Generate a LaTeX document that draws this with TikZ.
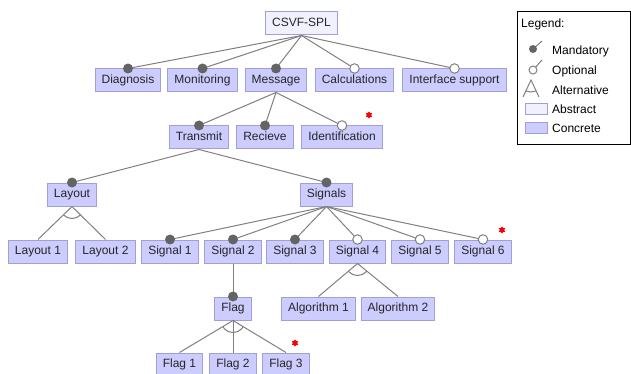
\documentclass[tikz,border=0pt]{standalone}
\usepackage{fontspec}
\setmainfont{Liberation Sans}
\usetikzlibrary{positioning,shapes.geometric}
\definecolor{concfill}{RGB}{204,204,255}
\definecolor{absfill}{RGB}{240,240,255}
\definecolor{boxline}{RGB}{160,160,210}
\definecolor{linegray}{RGB}{128,128,128}
\definecolor{dotgray}{RGB}{100,100,100}
\tikzset{
  feat/.style={draw=boxline, line width=1pt, minimum height=23pt, inner xsep=6.5pt,
    text height=9pt, text depth=2.5pt, text=black!85},
  concrete/.style={feat, fill=concfill},
  abstract/.style={feat, fill=absfill},
  edge/.style={draw=linegray, line width=1pt},
  mand/.style={circle, fill=dotgray, inner sep=0pt, minimum size=10pt},
  opt/.style={circle, draw=linegray, fill=white, line width=1pt, inner sep=0pt, minimum size=9.5pt},
  newfeat/.style={star, star points=6, fill=red, inner sep=0pt, minimum size=7pt}
}

\begin{document}
\begin{tikzpicture}[x=1pt,y=-1pt,font=\fontsize{12pt}{14pt}\selectfont]
  \useasboundingbox (0,0) rectangle (631,374);
  % features
  \node[abstract] (root) at (301.5,23.5) {CSVF-SPL};
  \node[concrete] (diag) at (128,80.5) {Diagnosis};
  \node[concrete] (moni) at (202.5,80.5) {Monitoring};
  \node[concrete] (mess) at (276,80.5) {Message};
  \node[concrete] (calc) at (354.5,80.5) {Calculations};
  \node[concrete] (intf) at (454.5,80.5) {Interface support};
  \node[concrete] (trans) at (199,137.5) {Transmit};
  \node[concrete] (recv) at (265,137.5) {Recieve};
  \node[concrete] (ident) at (342,137.5) {Identification};
  \node[concrete] (lay) at (72,194.5) {Layout};
  \node[concrete] (sigs) at (326.5,194.5) {Signals};
  \node[concrete] (lay1) at (38,251.5) {Layout 1};
  \node[concrete] (lay2) at (105.5,251.5) {Layout 2};
  \node[concrete] (sig1) at (170,251.5) {Signal 1};
  \node[concrete] (sig2) at (233,251.5) {Signal 2};
  \node[concrete] (sig3) at (295,251.5) {Signal 3};
  \node[concrete] (sig4) at (357.5,251.5) {Signal 4};
  \node[concrete] (sig5) at (420,251.5) {Signal 5};
  \node[concrete] (sig6) at (483,251.5) {Signal 6};
  \node[concrete] (flag) at (233,308.5) {Flag};
  \node[concrete] (alg1) at (318.5,308.5) {Algorithm 1};
  \node[concrete] (alg2) at (398,308.5) {Algorithm 2};
  \node[concrete] (flag1) at (179.5,364.5) {Flag 1};
  \node[concrete] (flag2) at (233,364.5) {Flag 2};
  \node[concrete] (flag3) at (286,364.5) {Flag 3};

  % mandatory and optional
  \foreach \c in {diag,moni,mess} \draw[edge] (root.south) -- (\c.north) node[mand] {};
  \foreach \c in {calc,intf} \draw[edge] (root.south) -- (\c.north) node[opt] {};
  \foreach \c in {trans,recv} \draw[edge] (mess.south) -- (\c.north) node[mand] {};
  \draw[edge] (mess.south) -- (ident.north) node[opt] {};
  \foreach \c in {lay,sigs} \draw[edge] (trans.south) -- (\c.north) node[mand] {};
  \foreach \c in {sig1,sig2,sig3} \draw[edge] (sigs.south) -- (\c.north) node[mand] {};
  \foreach \c in {sig4,sig5,sig6} \draw[edge] (sigs.south) -- (\c.north) node[opt] {};
  \draw[edge] (sig2.south) -- (flag.north) node[mand] {};

  % alternative groups
  \draw[edge] (lay1.north) -- (lay.south) -- (lay2.north);
  \begin{scope}
    \clip (lay.south) -- (lay1.north) -- (lay2.north) -- cycle;
    \draw[edge] (lay.south) circle (12pt);
  \end{scope}
  \draw[edge] (alg1.north) -- (sig4.south) -- (alg2.north);
  \begin{scope}
    \clip (sig4.south) -- (alg1.north) -- (alg2.north) -- cycle;
    \draw[edge] (sig4.south) circle (12pt);
  \end{scope}
  \foreach \c in {flag1,flag2,flag3} \draw[edge] (flag.south) -- (\c.north);
  \begin{scope}
    \clip (flag.south) -- (flag1.north) -- (flag3.north) -- cycle;
    \draw[edge] (flag.south) circle (12pt);
  \end{scope}

  % new features
  \node[newfeat] (star1) at (369,115) {};
  \node[newfeat] (star2) at (502,230) {};
  \node[newfeat] (star3) at (295,343) {};

  % legend
  \draw[line width=1pt] (517,12) rectangle (630,145);
  \node[anchor=west,inner sep=0pt] (legtitle) at (521,24) {Legend:};
  \draw[edge] (533,49) -- (542,41);
  \node[mand,minimum size=8pt] (legmand) at (533,49) {};
  \node[anchor=west,inner sep=0pt] (legmandtxt) at (552,51) {Mandatory};
  \draw[edge] (533,70) -- (542,60);
  \node[opt,minimum size=8pt] (legopt) at (533,70) {};
  \node[anchor=west,inner sep=0pt] (legopttxt) at (552,71) {Optional};
  \draw[edge] (523,97) -- (531,80) -- (539,97);
  \begin{scope}
    \clip (531,80) -- (523,97) -- (539,97) -- cycle;
    \draw[edge] (531,80) circle (12pt);
  \end{scope}
  \node[anchor=west,inner sep=0pt] (legalttxt) at (552,90) {Alternative};
  \draw[draw=boxline,fill=absfill,line width=1pt] (525,104) rectangle (547,115);
  \node[anchor=west,inner sep=0pt] (legabstxt) at (552,109) {Abstract};
  \draw[draw=boxline,fill=concfill,line width=1pt] (525,123) rectangle (547,134);
  \node[anchor=west,inner sep=0pt] (legcontxt) at (552,128) {Concrete};
\end{tikzpicture}
\end{document}
